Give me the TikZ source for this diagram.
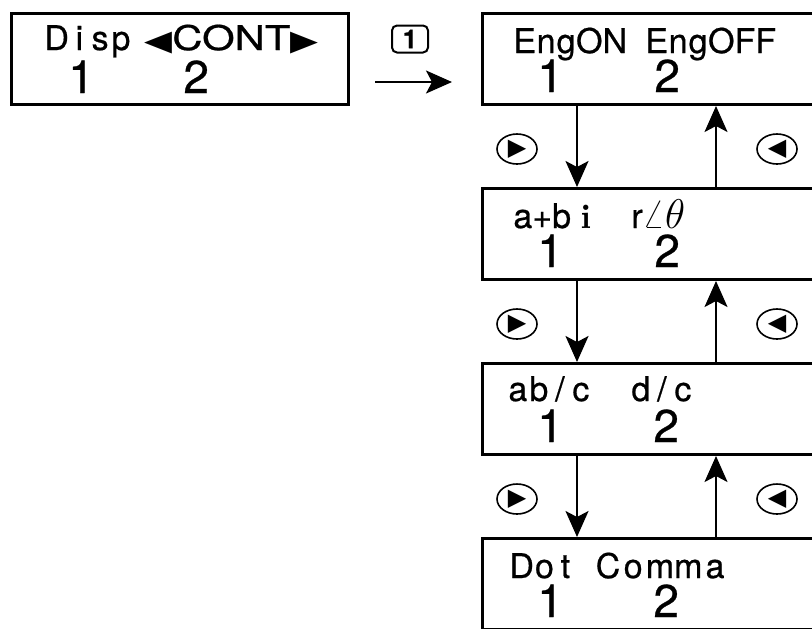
\documentclass[tikz,border=0pt]{standalone}
\usepackage{fontspec}
\newfontfamily\lcdfont[FakeBold=0.6]{TeX Gyre Heros}
\newfontfamily\numfont[FakeBold=0.6]{TeX Gyre Heros}
\newfontfamily\symfont{DejaVu Sans}
\usetikzlibrary{positioning, arrows, arrows.meta, shapes.geometric}
\tikzset{>={Stealth[length=13pt,width=11.5pt,inset=3pt]}}
\tikzset{
	screen/.style={draw, line width=1.5pt, anchor=north west, inner sep=0, minimum height=45.5pt},
	lcdtext/.style={anchor=base west, inner sep=0, font=\lcdfont\fontsize{17}{19}\selectfont},
	lcdnum/.style={anchor=base west, inner sep=0, font=\numfont\fontsize{23}{25}\selectfont},
	keyoval/.style={draw, ellipse, line width=0.8pt, minimum width=20pt, minimum height=15pt, inner sep=0, font=\symfont\fontsize{12}{12}\selectfont},
	keycap/.style={draw, line width=1pt, rounded corners=2.5pt, minimum width=18pt, minimum height=13.5pt, inner sep=0, font=\numfont\bfseries\fontsize{13}{13}\selectfont}
}
% letters of the display sit in cells of one width
\makeatletter
\newlength\lcdpitch
\newsavebox\lcdbox
\newcommand\lcdchar[1]{\sbox\lcdbox{#1}\ifdim\wd\lcdbox<\lcdpitch\makebox[\lcdpitch]{#1}\else\usebox\lcdbox\fi}
\newcommand\lcdword[2][10.5pt]{\setlength\lcdpitch{#1}\@tfor\lcd@c:=#2\do{\lcdchar{\lcd@c}}}
\makeatother
\newcommand\tri[1]{{\symfont\fontsize{14.3}{14.3}\selectfont\scalebox{1.27}[1]{#1}}}

\begin{document}
\begin{tikzpicture}[x=0.5pt, y=-0.5pt]
		\useasboundingbox (0,0) rectangle (812,628);

		% screens
		\node[screen, minimum width=168.5pt] (s0) at (10,12) {};
		\node[screen, minimum width=200pt] (s1) at (481,12) {};
		\node[screen, minimum width=200pt] (s2) at (481,187) {};
		\node[screen, minimum width=200pt] (s3) at (481,362) {};
		\node[screen, minimum width=200pt] (s4) at (481,537) {};

		% texts on the screens
		\node[lcdtext] (t0a) at (44,50) {\lcdword[10.4pt]{Disp}};
		\node[lcdtext] (t0b) at (144,50) {\tri{◀}\scalebox{1.23}[1]{CONT}\tri{▶}};
		\node[lcdnum] (t01) at (68,93) {1};
		\node[lcdnum] (t02) at (183,93) {2};

		\node[lcdtext] (t1a) at (513,53) {\lcdword[10pt]{EngON}};
		\node[lcdtext] (t1b) at (645,53) {\lcdword[10pt]{EngOFF}};
		\node[lcdnum] (t11) at (537,92) {1};
		\node[lcdnum] (t12) at (654,92) {2};

		\node[lcdtext] (t2a) at (513,228) {a+b\hspace{5pt}$\mathbf{i}$};
		\node[lcdtext] (t2b) at (631,228) {r{\fontsize{20.7}{21}\selectfont$\angle\theta$}};
		\node[lcdnum] (t21) at (537,267) {1};
		\node[lcdnum] (t22) at (654,267) {2};

		\node[lcdtext] (t3a) at (507,401) {\lcdword{ab/c}};
		\node[lcdtext] (t3b) at (630,401) {\lcdword{d/c}};
		\node[lcdnum] (t31) at (537,442) {1};
		\node[lcdnum] (t32) at (653,442) {2};

		\node[lcdtext] (t4a) at (509,578) {\lcdword{Dot}};
		\node[lcdtext] (t4b) at (595,578) {\lcdword[12.6pt]{Comma}};
		\node[lcdnum] (t41) at (537,617) {1};
		\node[lcdnum] (t42) at (653,617) {2};

		% key 1 and arrow
		\node[keycap] (k1) at (410,39) {1};
		\coordinate (a0) at (375,82);
		\coordinate (a1) at (452,82);
		\draw [->, line width=1pt] (a0) -- (a1);

		% cursor keys
		\foreach \i/\y in {1/149, 2/324, 3/499} {
			\node[keyoval] (r\i) at (517,\y) {▶};
			\node[keyoval] (l\i) at (777,\y) {◀};
		}

		\foreach \i/\j in {1/2, 2/3, 3/4} {
			\draw [->, line width=1pt] ([xshift=48pt]s\i.south west) -- ([xshift=48pt]s\j.north west);
			\draw [->, line width=1pt] ([xshift=117.5pt]s\j.north west) -- ([xshift=117.5pt]s\i.south west);
		}
	\end{tikzpicture}
\end{document}
